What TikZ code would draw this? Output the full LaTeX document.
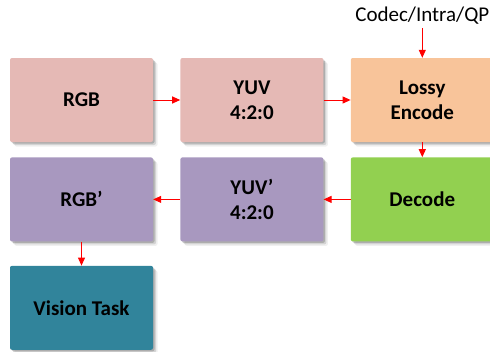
\documentclass[tikz,border=0pt]{standalone}
\usepackage{fontspec}
\setmainfont{Carlito}
\usetikzlibrary{positioning,arrows.meta,shadows}

\definecolor{rgbpink}{HTML}{E5B9B5}
\definecolor{encorange}{HTML}{F8C49A}
\definecolor{yuvpurple}{HTML}{A898BF}
\definecolor{decgreen}{HTML}{92D050}
\definecolor{taskteal}{HTML}{31849B}

\begin{document}
\begin{tikzpicture}[
x=1pt,y=1pt,
node distance=15pt and 27pt,
box/.style={
    rounded corners=2pt,
    minimum width=143pt,
    minimum height=84pt,
    inner sep=3pt,
    align=center,
    font=\fontsize{21}{25}\selectfont\bfseries,
    general shadow={shadow xshift=1.5pt,shadow yshift=-1.5pt,opacity=0.18,fill=black},
    general shadow={shadow xshift=3pt,shadow yshift=-3pt,opacity=0.12,fill=black},
    general shadow={shadow xshift=4.5pt,shadow yshift=-4.5pt,opacity=0.06,fill=black}
},
>={Triangle[length=8pt,width=7pt]}
]
\useasboundingbox (0,0) rectangle (490,-351);

\node (rgb) [box,fill=rgbpink] at (81.5,-100) {RGB};

\node (yuv) [box,fill=rgbpink,right=of rgb] {YUV\\4:2:0};

\node (enc) [box,fill=encorange,right=of yuv] {Lossy\\Encode};

\node (cfg) [above=30pt of enc,inner sep=3pt,font=\fontsize{21}{25}\selectfont]
{Codec/Intra/QP};

\node (rgbout) [box,fill=yuvpurple,below=of rgb] {RGB’};

\node (yuvout) [box,fill=yuvpurple,right=of rgbout] {YUV’\\4:2:0};

\node (dec) [box,fill=decgreen,right=of yuvout] {Decode};

\node (task) [box,fill=taskteal,below=24pt of rgbout] {Vision Task};

\draw[->,red,line width=1pt] (cfg)--(enc);
\draw[->,red,line width=1pt] (rgb)--(yuv);
\draw[->,red,line width=1pt] (yuv)--(enc);
\draw[->,red,line width=1pt] (enc)--(dec);
\draw[->,red,line width=1pt] (dec)--(yuvout);
\draw[->,red,line width=1pt] (yuvout)--(rgbout);
\draw[->,red,line width=1pt] (rgbout)--(task);

\end{tikzpicture}
\end{document}
